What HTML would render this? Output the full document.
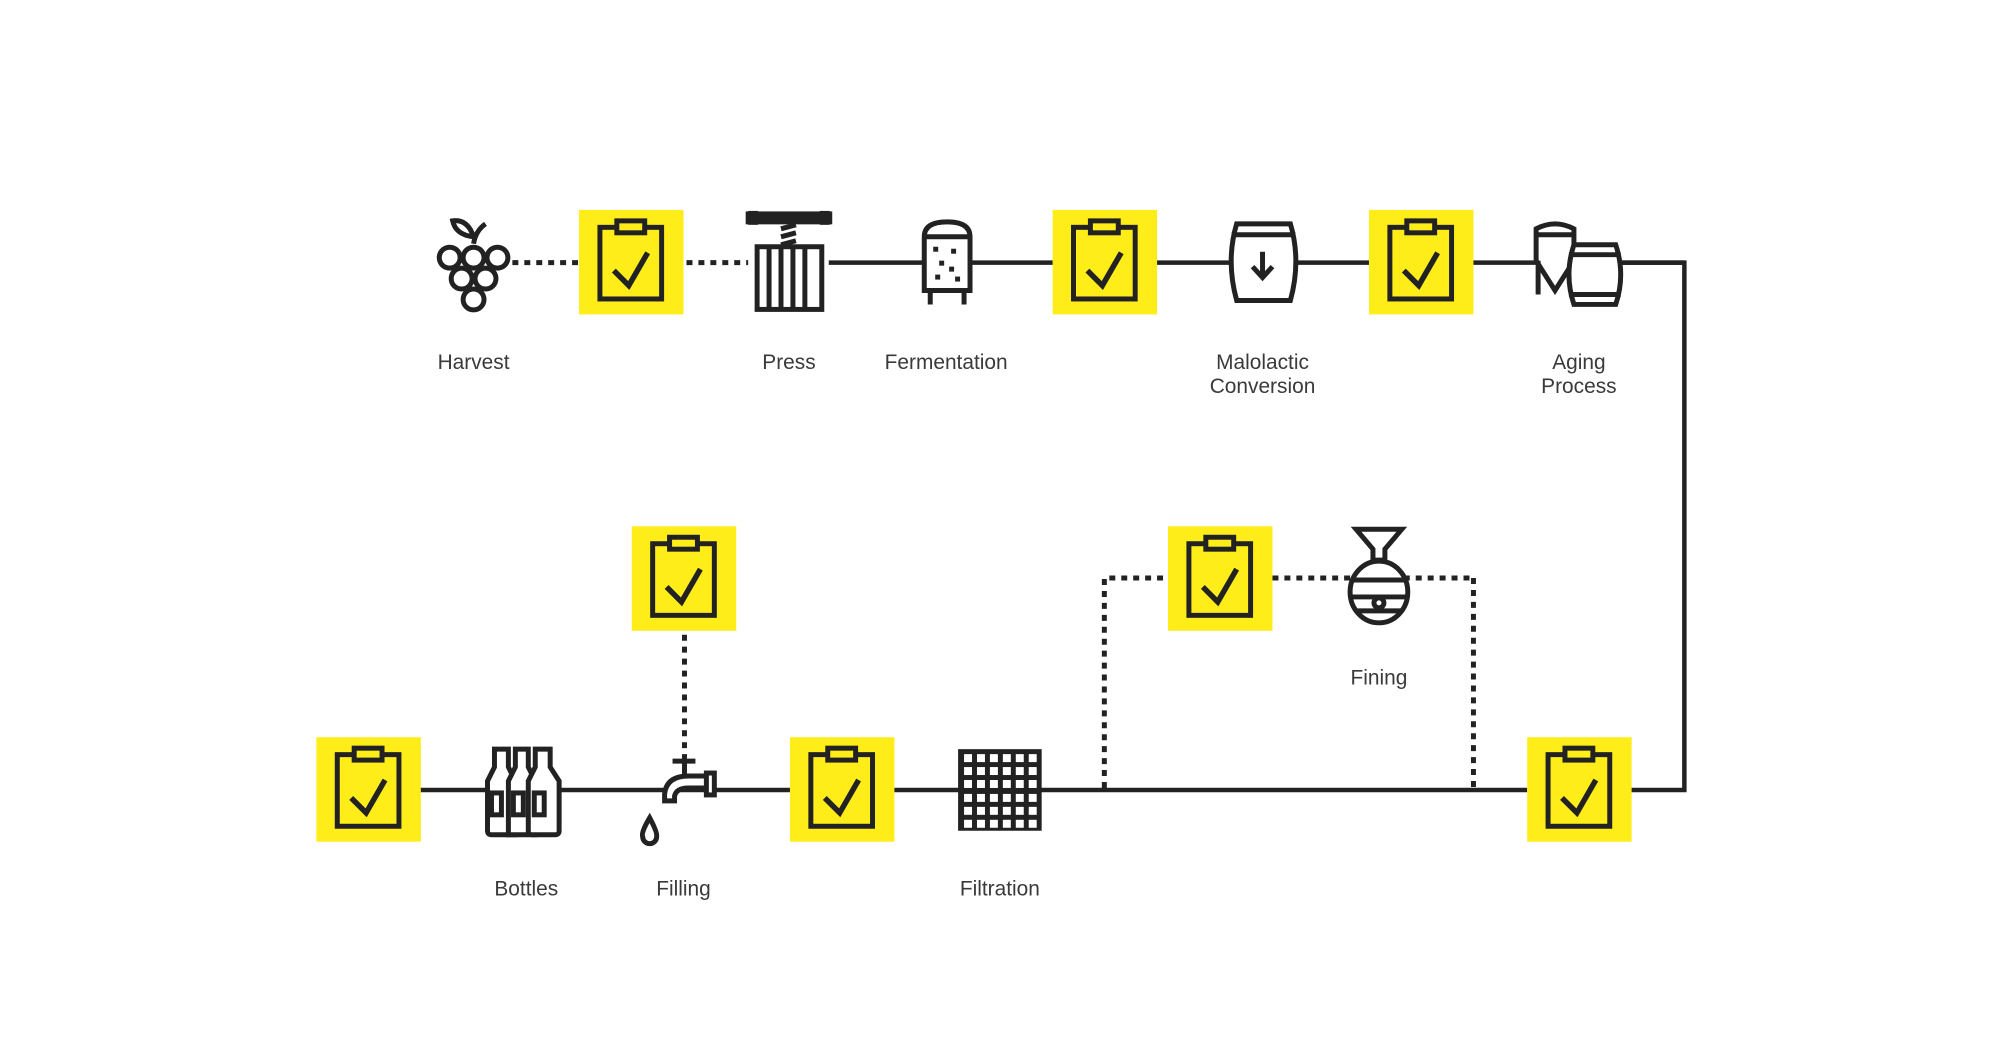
<!DOCTYPE html>
<html><head><meta charset="utf-8"><style>
html,body{margin:0;padding:0;background:#fff;width:2000px;height:1053px;overflow:hidden}
svg{display:block}
text{font-family:"Liberation Sans",sans-serif;font-size:21px;fill:#3a3a3a;font-weight:300;text-anchor:middle}
</style></head><body>
<svg width="2000" height="1053" viewBox="0 0 2000 1053" xmlns="http://www.w3.org/2000/svg">
<defs>
<g id="cb">
<rect width="105" height="105" fill="#ffed1a"/>
<rect x="21" y="17.5" width="62" height="72" fill="none" stroke="#222" stroke-width="5"/>
<rect x="38" y="11" width="28" height="12" fill="#ffed1a" stroke="#222" stroke-width="5"/>
<polyline points="35,61 50,76 69,43" fill="none" stroke="#222" stroke-width="5.5"/>
</g>
</defs>
<g transform="scale(0.9949)">
<g stroke="#222" stroke-width="4.5" fill="none">
<line x1="833" y1="264" x2="1693" y2="264"/>
<polyline points="1631,264 1693,264 1693,794 1630,794"/>
<line x1="1535" y1="794" x2="420" y2="794"/>
<g stroke-dasharray="6,6" stroke-width="5">
<line x1="515" y1="264" x2="582" y2="264"/>
<line x1="690" y1="264" x2="752" y2="264"/>
<line x1="688" y1="530" x2="688" y2="770"/>
<polyline points="1110,792 1110,581 1174,581"/>
<line x1="1279" y1="581" x2="1481" y2="581"/>
<line x1="1481" y1="581" x2="1481" y2="792"/>
</g>
</g>
<use href="#cb" x="582" y="211"/>
<use href="#cb" x="1058" y="211"/>
<use href="#cb" x="1376" y="211"/>
<use href="#cb" x="318" y="741"/>
<use href="#cb" x="794" y="741"/>
<use href="#cb" x="1535" y="741"/>
<use href="#cb" x="635" y="529"/>
<use href="#cb" x="1174" y="529"/>

<g stroke="#222" stroke-width="5" fill="#fff">
<path d="M476 245 Q478 232 488 225" fill="none"/>
<path d="M476 238 Q458 236 455 222 Q470 220 476 238Z" fill="#fff"/>
<circle cx="452" cy="259" r="10.5"/><circle cx="476" cy="259" r="10.5"/><circle cx="500" cy="259" r="10.5"/>
<circle cx="464" cy="280" r="10.5"/><circle cx="488" cy="280" r="10.5"/>
<circle cx="476" cy="301" r="10.5"/>
<rect x="752" y="215" width="82" height="8" fill="#222"/>
<rect x="752" y="212" width="10" height="14" fill="#222" stroke="none"/>
<rect x="824" y="212" width="10" height="14" fill="#222" stroke="none"/>
<path d="M785 230 L800 226 M785 238 L800 234 M785 246 L800 242" fill="none"/>
<rect x="761" y="248" width="65" height="63"/>
<path d="M773 248V311 M785 248V311 M797 248V311 M809 248V311" fill="none"/>
<path d="M929 292 V238 Q929 223 952 223 Q975 223 975 238 V292 Z"/>
<line x1="929" y1="238" x2="975" y2="238"/>
<path d="M935 292 V306 M969 292 V306" fill="none"/>
<g fill="#222" stroke="none"><rect x="938" y="248" width="5" height="5"/><rect x="956" y="250" width="5" height="5"/><rect x="944" y="262" width="5" height="5"/><rect x="954" y="268" width="5" height="5"/><rect x="940" y="276" width="5" height="5"/><rect x="960" y="278" width="5" height="5"/></g>
<path d="M1243 225 H1297 Q1308 262 1297 302 H1243 Q1232 262 1243 225Z"/>
<line x1="1238" y1="236" x2="1302" y2="236"/>
<path d="M1269 253 V279 M1259 268 L1269 279 L1279 268" fill="none"/>
<path d="M1544 230 Q1563 220 1582 230 V262 L1563 292 L1544 262 Z"/>
<line x1="1544" y1="236" x2="1582" y2="236"/>
<path d="M1546 262 V296" fill="none"/>
<path d="M1582 246 H1624 Q1634 276 1624 306 H1582 Q1572 276 1582 246Z"/>
<line x1="1577" y1="256" x2="1629" y2="256"/><line x1="1577" y1="296" x2="1629" y2="296"/>
<g>
<path d="M497 753 V771 L490 785 V835 Q490 839 494 839 H518 V785 L511 771 V753 Z"/>
<path d="M518 753 V771 L511 785 V839 H538 V785 L531 771 V753 Z"/>
<path d="M538 753 V771 L531 785 V835 Q531 839 535 839 H558 Q562 839 562 835 V785 L553 771 V753 Z"/>
<rect x="494" y="797" width="10" height="22" fill="none"/><rect x="516" y="797" width="10" height="22" fill="none"/><rect x="537" y="797" width="10" height="22" fill="none"/>
</g>
<path d="M676 765 H699 M688 765 V778" fill="none"/>
<path d="M712 780 H692 Q670 780 668 798 V805 H678 V800 Q680 792 692 792 H712 Z"/>
<rect x="710" y="777" width="8" height="22"/>
<path d="M653 822 Q644 837 646 841 A7 7 0 0 0 660 841 Q661 837 653 822Z"/>
<rect x="963" y="753" width="84" height="82" fill="#222" stroke="none"/>
</g>
<g fill="#fff">
<g id="row">
<rect x="969" y="758" width="8" height="8"/><rect x="982" y="758" width="8" height="8"/><rect x="995" y="758" width="8" height="8"/><rect x="1008" y="758" width="8" height="8"/><rect x="1021" y="758" width="8" height="8"/><rect x="1034" y="758" width="8" height="8"/>
</g>
<use href="#row" y="13"/><use href="#row" y="26"/><use href="#row" y="40"/><use href="#row" y="53"/><use href="#row" y="66"/>
</g>
<g stroke="#222" stroke-width="5" fill="#fff">
<path d="M1363 532 H1409 L1392 552 V563 H1380 V552 Z"/>
<ellipse cx="1386" cy="595" rx="29" ry="31"/>
<path d="M1359 583 H1413 M1358 600 H1414 M1362 614 H1410" fill="none"/>
<circle cx="1386" cy="606" r="5"/>
</g>
<text x="476" y="371">Harvest</text>
<text x="793" y="371">Press</text>
<text x="951" y="371">Fermentation</text>
<text x="1269" y="371">Malolactic</text>
<text x="1269" y="395">Conversion</text>
<text x="1587" y="371">Aging</text>
<text x="1587" y="395">Process</text>
<text x="1386" y="688">Fining</text>
<text x="529" y="900">Bottles</text>
<text x="687" y="900">Filling</text>
<text x="1005" y="900">Filtration</text>
</g>
</svg>
</body></html>
